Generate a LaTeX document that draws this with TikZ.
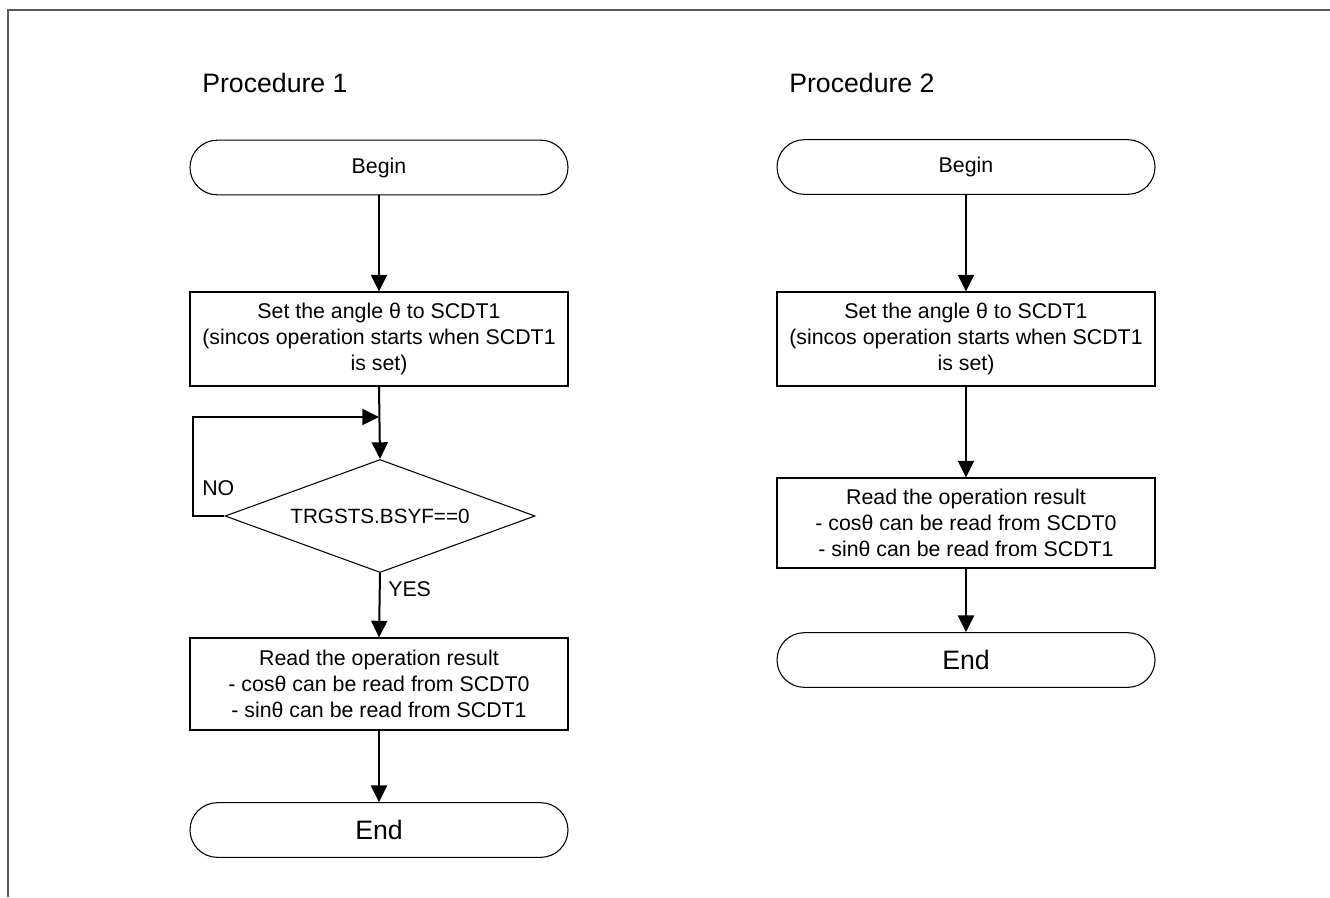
\documentclass[tikz,border=0pt]{standalone}
\usepackage{fontspec}
\setmainfont{Liberation Sans}
\usetikzlibrary{shapes.geometric,arrows.meta}
\begin{document}
\begin{tikzpicture}[x=0.75pt,y=-0.75pt,
  term/.style={draw,line width=0.8pt,rounded corners=20.5pt,minimum width=283.5pt,minimum height=41pt,inner sep=0pt},
  procbox/.style={draw,line width=0.8pt,minimum width=283.5pt,inner sep=0pt,align=center,font=\fontsize{16}{19.4}\selectfont},
  dec/.style={draw,line width=0.8pt,diamond,aspect=2.74,minimum width=232.5pt,minimum height=84.75pt,inner sep=0pt,font=\fontsize{15.5}{18}\selectfont},
  arr/.style={line width=1.5pt,-{Triangle[width=12pt,length=12.5pt]}},
  ttl/.style={font=\fontsize{20}{24}\selectfont,anchor=west,inner sep=0pt},
  lbl/.style={font=\fontsize{16}{19}\selectfont,anchor=west,inner sep=0pt},
  frame/.style={draw=black!65,line width=1.5pt}
]
\useasboundingbox (0,0) rectangle (1330,897);
\fill[white] (0,0) rectangle (1330,897);
\draw[frame] (7.5,897) -- (7.5,9.5) -- (1330,9.5);

% titles
\node[ttl] (t1) at (202,83) {Procedure 1};
\node[ttl] (t2) at (789,83) {Procedure 2};

% Procedure 1
\node[term,font=\fontsize{16}{19}\selectfont] (b1) at (379,167.5) {Begin};
\node[procbox,minimum height=70.5pt] (s1) at (379,339) {Set the angle θ to SCDT1\\(sincos operation starts when SCDT1\\is set)};
\node[dec] (d1) at (380,516) {TRGSTS.BSYF==0};
\node[procbox,minimum height=69pt] (r1) at (379,684) {Read the operation result\\- cosθ can be read from SCDT0\\- sinθ can be read from SCDT1};
\node[term,font=\fontsize{20}{24}\selectfont] (e1) at (379,830) {End};

\coordinate (loopL) at (193,516);
\coordinate (join) at (379,417);

\draw[arr] (b1.south) -- (s1.north);
\draw[arr] (s1.south) -- (d1.north);
\draw[arr] (d1.west) -- (loopL) |- (join);
\draw[arr] (d1.south) -- (r1.north);
\draw[arr] (r1.south) -- (e1.north);
\node[lbl] (no) at (202,488) {NO};
\node[lbl] (yes) at (388,589) {YES};

% Procedure 2
\node[term,font=\fontsize{16}{19}\selectfont] (b2) at (966,167) {Begin};
\node[procbox,minimum height=70.5pt] (s2) at (966,339) {Set the angle θ to SCDT1\\(sincos operation starts when SCDT1\\is set)};
\node[procbox,minimum height=67.5pt] (r2) at (966,523) {Read the operation result\\- cosθ can be read from SCDT0\\- sinθ can be read from SCDT1};
\node[term,font=\fontsize{20}{24}\selectfont] (e2) at (966,660) {End};

\draw[arr] (b2.south) -- (s2.north);
\draw[arr] (s2.south) -- (r2.north);
\draw[arr] (r2.south) -- (e2.north);
\end{tikzpicture}
\end{document}
